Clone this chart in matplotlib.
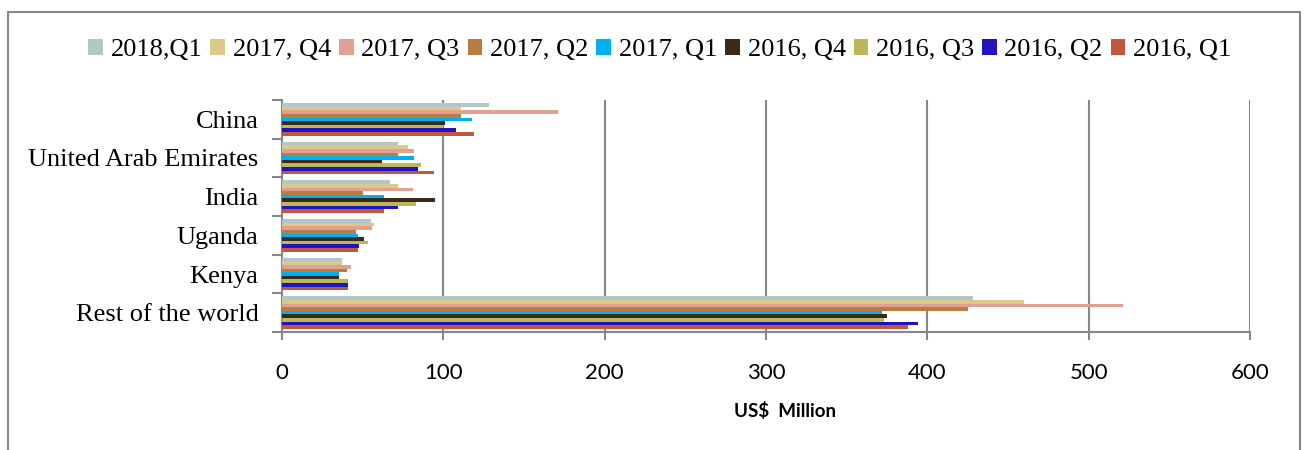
import numpy as np
import matplotlib.pyplot as plt
from matplotlib.patches import Patch, Rectangle

# Categories, top to bottom
countries = ["China", "United Arab Emirates", "India", "Uganda", "Kenya", "Rest of the world"]

# Series, top to bottom inside each group (same order as legend)
quarters = ["2018,Q1", "2017, Q4", "2017, Q3", "2017, Q2", "2017, Q1",
            "2016, Q4", "2016, Q3", "2016, Q2", "2016, Q1"]

# US$ Million, per country (China, UAE, India, Uganda, Kenya, Rest of the world)
q2018_1 = [128, 72, 67, 55, 37, 428]
q2017_4 = [111, 78, 72, 57, 37, 460]
q2017_3 = [171, 82, 81, 56, 43, 521]
q2017_2 = [111, 72, 50, 46, 40, 425]
q2017_1 = [118, 82, 63, 47, 35, 372]
q2016_4 = [101, 62, 95, 51, 35, 375]
q2016_3 = [100, 86, 83, 53, 41, 373]
q2016_2 = [108, 84, 72, 48, 41, 394]
q2016_1 = [119, 94, 63, 47, 41, 388]

values = [q2018_1, q2017_4, q2017_3, q2017_2, q2017_1, q2016_4, q2016_3, q2016_2, q2016_1]
colors = ["#b3c6c8", "#dcc98a", "#e0a092", "#b97d42", "#00b0f0",
          "#3b2a1b", "#b9b85a", "#2312c0", "#c0573f"]

xticks = [0, 100, 200, 300, 400, 500, 600]

fig = plt.figure(figsize=(13.04, 4.5), dpi=100)
ax = fig.add_axes([0.2163, 0.2622, 0.7423, 0.5156])

y = np.arange(len(countries))
h = 0.093
for j, (vals, c) in enumerate(zip(values, colors)):
    ax.barh(y + (j - 4) * h, vals, height=h, color=c, edgecolor="none", zorder=3)

ax.set_xlim(0, 600)
ax.set_ylim(len(countries) - 0.5, -0.5)
ax.set_xticks(xticks)
ax.set_xticklabels([str(t) for t in xticks], fontsize=16, fontfamily="Lato")
ax.set_yticks(y)
ax.set_yticklabels(countries, fontsize=19, fontfamily="Liberation Serif")
ax.set_yticks(np.arange(len(countries) + 1) - 0.5, minor=True)

grey = "#878787"
ax.tick_params(axis="x", direction="out", length=6, width=1.5, color=grey, pad=16)
ax.tick_params(axis="y", which="major", length=0, pad=17)
ax.tick_params(axis="y", which="minor", direction="out", length=7, width=1.5, color=grey)

ax.grid(axis="x", color=grey, linewidth=1.5, zorder=0)
for s in ["top", "right"]:
    ax.spines[s].set_visible(False)
for s in ["left", "bottom"]:
    ax.spines[s].set_color(grey)
    ax.spines[s].set_linewidth(1.5)

ax.set_xlabel("US$  Million", fontsize=13.5, fontweight="bold", fontfamily="Lato")
ax.xaxis.set_label_coords(0.52, -0.30)

handles = [Patch(facecolor=c, edgecolor="none") for c in colors]
fig.legend(handles, quarters, loc="center", bbox_to_anchor=(0.506, 0.889), ncol=9,
           frameon=False, prop={"family": "Liberation Serif", "size": 19},
           handlelength=0.55, handleheight=0.6, handletextpad=0.3, columnspacing=0.3)

fig.patches.append(Rectangle((0.0061, -0.05), 0.9908, 1.0233, transform=fig.transFigure,
                             fill=False, edgecolor=grey, linewidth=1.5))

fig.savefig("out.png", dpi=100)
